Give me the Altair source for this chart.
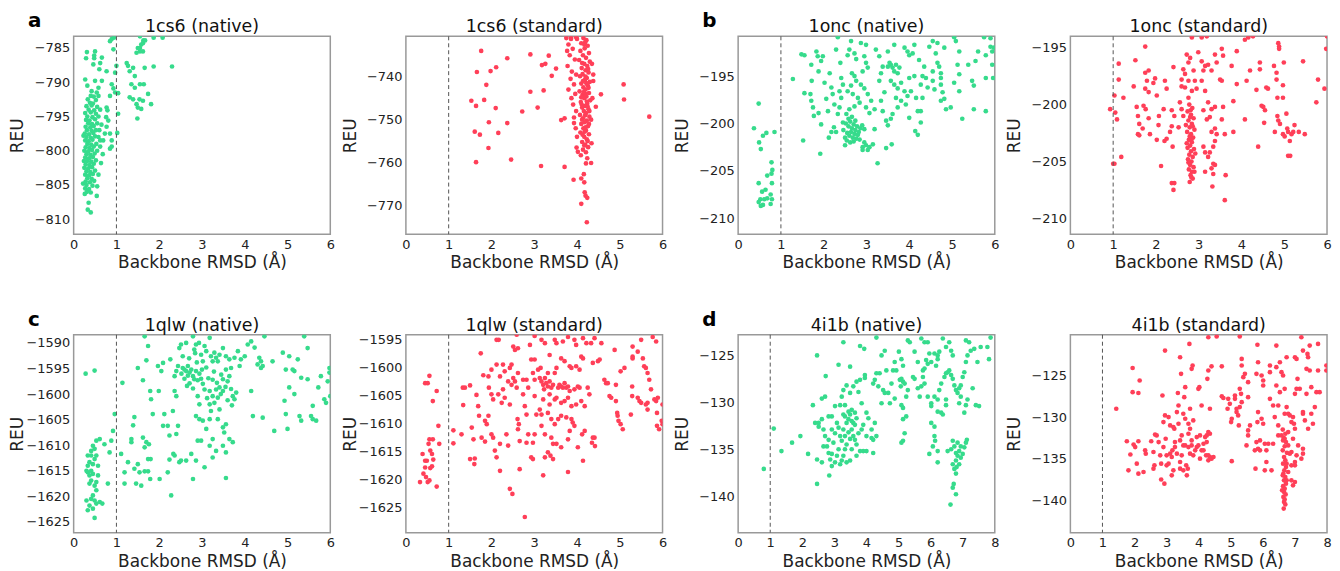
import altair as alt
import pandas as pd

GREEN = "#36db8c"
RED = "#ff3f58"
FONT = "DejaVu Sans"

# ---------------- data (RMSD in Å, energy in REU) ----------------
ref_rmsd = [1.0]
x6_ticks = [0, 1, 2, 3, 4, 5, 6]
x8_ticks = [0, 1, 2, 3, 4, 5, 6, 7, 8]

a_native_yticks = [-810, -805, -800, -795, -790, -785]
a_standard_yticks = [-770, -760, -750, -740]
b_yticks = [-210, -205, -200, -195]
c_native_yticks = [-1625, -1620, -1615, -1610, -1605, -1600, -1595, -1590]
c_standard_yticks = [-1625, -1620, -1615, -1610, -1605, -1600, -1595]
d_yticks = [-140, -135, -130, -125]

a_native = [
    (0.85, -784.0), (0.89, -783.7), (0.94, -783.5), (1.55, -783.3), (1.87, -783.5), (2.08, -783.5), (0.93, -785.2),
    (1.47, -785.7), (1.50, -785.0), (1.55, -785.0), (1.58, -784.5), (1.62, -784.3), (1.63, -783.9), (1.67, -783.9),
    (1.55, -785.5), (1.62, -785.5), (1.24, -787.2), (1.27, -787.6), (1.39, -787.9), (1.66, -787.9), (1.87, -787.7),
    (2.30, -787.7), (0.77, -788.4), (0.97, -788.6), (1.00, -787.6), (1.31, -788.4), (1.43, -789.1), (1.35, -790.3),
    (1.43, -790.8), (1.55, -790.3), (1.64, -790.3), (0.89, -790.3), (0.93, -790.9), (0.97, -791.5), (1.04, -791.6),
    (0.85, -792.0), (1.31, -792.2), (1.39, -792.5), (1.54, -792.5), (1.62, -792.7), (1.74, -791.7), (1.81, -793.2),
    (1.50, -793.7), (1.58, -793.9), (1.47, -793.2), (1.49, -795.3), (1.04, -794.6), (1.02, -797.4),
    (0.66, -786.4), (0.62, -787.2), (0.60, -788.1), (0.50, -785.5), (0.48, -786.1), (0.48, -786.5), (0.31, -785.6),
    (0.29, -786.5), (0.46, -787.4), (0.66, -789.8), (0.50, -789.8), (0.58, -790.8), (0.42, -791.3), (0.32, -790.5),
    (0.27, -789.6), (0.54, -791.5), (0.58, -792.0), (0.77, -793.7), (0.79, -794.1), (0.76, -795.1), (0.81, -795.6),
    (0.77, -796.5), (0.73, -797.5), (0.85, -797.5), (0.89, -798.5), (0.89, -799.4), (0.85, -799.7), (0.62, -798.5),
    (0.62, -799.4), (0.69, -798.5), (0.54, -806.6), (0.35, -807.6), (0.33, -808.6), (0.40, -809.0),
    (0.62, -794.0), (0.65, -796.2), (0.60, -797.0), (0.68, -800.5), (0.64, -801.8), (0.58, -803.5), (0.55, -805.2),
    (0.22, -804.8), (0.24, -801.5), (0.23, -797.8),
    (0.40, -792.0), (0.47, -792.1), (0.33, -792.5), (0.52, -792.6), (0.38, -793.0), (0.45, -793.1),
    (0.30, -793.5), (0.42, -793.4), (0.55, -793.6), (0.35, -794.0), (0.48, -794.1), (0.27, -794.5),
    (0.40, -794.4), (0.52, -794.6), (0.32, -795.0), (0.44, -795.1), (0.58, -795.0), (0.29, -795.5),
    (0.37, -795.6), (0.50, -795.4), (0.34, -796.0), (0.43, -796.1), (0.55, -796.0), (0.28, -796.5),
    (0.39, -796.6), (0.47, -796.4), (0.31, -797.0), (0.42, -797.1), (0.52, -797.0), (0.26, -797.5),
    (0.36, -797.6), (0.46, -797.4), (0.30, -798.0), (0.40, -798.1), (0.50, -797.9), (0.58, -798.0),
    (0.27, -798.5), (0.35, -798.6), (0.44, -798.4), (0.32, -799.0), (0.41, -799.1), (0.53, -799.0),
    (0.28, -799.5), (0.37, -799.6), (0.47, -799.4), (0.25, -800.0), (0.34, -800.1), (0.43, -799.9),
    (0.55, -800.0), (0.30, -800.5), (0.39, -800.6), (0.49, -800.4), (0.27, -801.0), (0.36, -801.1),
    (0.45, -800.9), (0.32, -801.5), (0.41, -801.6), (0.52, -801.4), (0.28, -802.0), (0.37, -802.1),
    (0.47, -801.9), (0.25, -802.5), (0.34, -802.6), (0.43, -802.4), (0.30, -803.0), (0.39, -803.1),
    (0.50, -802.9), (0.27, -803.5), (0.36, -803.6), (0.45, -803.4), (0.32, -804.0), (0.42, -804.1),
    (0.28, -804.5), (0.38, -804.6), (0.48, -804.4), (0.30, -805.0), (0.44, -805.1), (0.27, -805.5),
    (0.36, -805.6), (0.31, -806.0), (0.40, -806.1), (0.26, -806.3),
]

a_standard = [
    (1.76, -734.0), (2.91, -734.8), (3.34, -735.1), (2.37, -735.7), (3.18, -737.3), (3.26, -737.0), (3.51, -738.1),
    (2.11, -737.8), (1.98, -738.7), (1.66, -738.9), (3.41, -739.8), (1.88, -741.9), (5.09, -741.8), (2.91, -743.5),
    (3.22, -743.2), (1.53, -745.6), (1.83, -745.4), (5.10, -745.3), (1.64, -746.8), (2.10, -747.3), (3.08, -747.2),
    (2.72, -748.1), (5.69, -749.3), (3.71, -749.7), (3.63, -750.1), (1.94, -750.6), (2.37, -750.8), (3.93, -750.8),
    (1.61, -752.8), (1.73, -753.5), (2.16, -753.1), (1.93, -756.6), (1.64, -759.9), (2.46, -759.3), (3.16, -760.8),
    (3.71, -761.0), (3.92, -764.0), (4.16, -762.7), (4.10, -763.7), (4.17, -764.6), (4.18, -766.9), (4.20, -767.7),
    (4.24, -768.2), (4.10, -769.6), (4.23, -773.9), (4.21, -760.2), (4.33, -760.1), (4.56, -744.1), (4.44, -747.0),
    (3.75, -731.0), (3.77, -734.0), (3.86, -731.0), (3.98, -730.8), (4.17, -732.5),
    (4.15, -731.0), (4.22, -731.5), (4.10, -732.2), (4.25, -732.8), (4.18, -733.4), (4.08, -734.0), (4.28, -734.5),
    (4.14, -735.0), (4.21, -735.6), (4.05, -736.1), (4.30, -736.5), (4.17, -737.0), (4.24, -737.5), (4.11, -738.0),
    (4.20, -738.5), (4.27, -739.0), (4.13, -739.4), (4.07, -739.9), (4.23, -740.3), (4.18, -740.8), (4.30, -741.2),
    (4.10, -741.6), (4.25, -742.0), (4.15, -742.5), (4.20, -743.0), (4.06, -743.4), (4.28, -743.8), (4.13, -744.2),
    (4.22, -744.6), (4.17, -745.0), (4.31, -745.5), (4.09, -745.9), (4.24, -746.3), (4.19, -746.8), (4.12, -747.2),
    (4.27, -747.6), (4.16, -748.0), (4.21, -748.5), (4.07, -748.9), (4.29, -749.3), (4.14, -749.7), (4.23, -750.2),
    (4.18, -750.6), (4.10, -751.0), (4.26, -751.5), (4.15, -752.0), (4.21, -752.5), (4.08, -753.0), (4.28, -753.4),
    (4.17, -754.0), (4.23, -754.6), (4.12, -755.2), (4.19, -755.8), (4.26, -756.4), (4.14, -757.0), (4.21, -757.6),
    (4.09, -758.3), (4.24, -759.0),
    (4.19, -732.0), (4.12, -736.8), (4.26, -738.2), (4.20, -740.0), (4.14, -741.0), (4.27, -742.6), (4.19, -744.0),
    (4.11, -746.5), (4.25, -747.0), (4.19, -749.0), (4.12, -750.0), (4.28, -751.0), (4.20, -751.8), (4.13, -753.5),
    (4.25, -755.0), (4.17, -756.0), (4.22, -741.5), (4.16, -743.6), (4.23, -745.8), (4.18, -752.8), (4.29, -748.0),
    (4.10, -744.8),
    (3.80, -732.5), (3.90, -733.5), (3.83, -735.0), (3.95, -736.0), (3.78, -737.5), (3.88, -738.8), (3.98, -739.5),
    (3.85, -740.5), (3.93, -741.8), (3.80, -743.0), (3.96, -744.0), (3.87, -745.0), (3.91, -746.5), (3.98, -748.0),
    (3.93, -749.5), (3.97, -752.0), (4.00, -754.0), (3.99, -756.5), (4.02, -757.5), (4.35, -737.0), (4.38, -741.0),
    (4.36, -745.0), (4.33, -750.0), (4.34, -755.5), (4.38, -739.5), (4.00, -731.2), (3.86, -731.2),
]

b_native = [
    (0.48, -197.9), (0.37, -200.5), (0.85, -200.9), (0.66, -201.0), (0.58, -201.3), (0.49, -202.0), (0.53, -202.7),
    (0.78, -204.1), (0.80, -204.9), (0.78, -205.3), (0.68, -205.5), (0.79, -206.3), (0.48, -206.3), (0.56, -207.2),
    (0.64, -207.0), (0.76, -207.5), (0.68, -207.9), (0.52, -208.0), (0.61, -208.0), (0.79, -208.0), (0.76, -208.5),
    (0.53, -208.7), (0.58, -208.6), (0.48, -208.3),
    (1.28, -195.3), (1.48, -192.7), (1.55, -192.8), (1.52, -201.8), (1.55, -196.8), (1.71, -193.8), (1.72, -195.5),
    (1.69, -196.9), (1.71, -197.6), (1.75, -198.3), (1.77, -199.2), (1.83, -192.4), (1.86, -192.9), (1.88, -194.5),
    (1.94, -193.4), (1.98, -192.9), (2.02, -195.7), (2.06, -197.4), (2.10, -198.7), (1.88, -198.9), (1.94, -200.1),
    (2.12, -201.5), (1.92, -203.2), (2.14, -194.7), (2.18, -196.2), (2.21, -196.9), (2.25, -198.0), (2.24, -200.4),
    (2.18, -200.9), (2.29, -200.9), (2.29, -192.2), (2.33, -190.9), (2.39, -193.6), (2.41, -195.2), (2.45, -195.9),
    (2.37, -196.6), (2.41, -197.3), (2.37, -198.3), (2.33, -199.0), (2.45, -199.9), (2.64, -191.3), (2.60, -192.2),
    (2.56, -192.8), (2.72, -192.6), (2.76, -193.2), (2.66, -194.7), (2.72, -195.0), (2.76, -195.5), (2.64, -196.0),
    (2.56, -196.6), (2.68, -196.9), (2.80, -197.3), (2.84, -197.8), (2.72, -198.2), (2.60, -198.5), (2.53, -199.0),
    (2.87, -191.5), (2.99, -191.7), (2.95, -192.9), (2.99, -193.6), (3.03, -194.1), (2.91, -194.5), (2.87, -195.9),
    (2.95, -196.3), (3.03, -196.9), (3.11, -197.6), (2.99, -198.3), (3.07, -198.9), (3.19, -198.5), (2.95, -200.6),
    (3.19, -200.6), (3.26, -204.2), (2.95, -202.0), (2.99, -202.3), (3.07, -202.5), (2.91, -202.5), (3.03, -202.8),
    (3.15, -202.2), (2.91, -202.8), (3.34, -194.7), (3.38, -194.0), (3.30, -195.5), (3.42, -196.7), (3.34, -197.6),
    (3.38, -198.7), (3.46, -199.7), (3.50, -200.2), (3.46, -202.6), (3.59, -202.2), (3.30, -192.9), (3.22, -192.2),
    (3.50, -192.4), (3.65, -191.7), (3.50, -194.0), (3.54, -193.6), (3.57, -193.8), (3.61, -194.1), (3.65, -194.5),
    (3.73, -194.7), (3.69, -193.8), (3.77, -194.1), (3.57, -195.5), (3.65, -195.9), (3.73, -196.3), (3.81, -195.7),
    (3.89, -196.6), (3.69, -197.3), (3.81, -197.6), (3.92, -198.0), (3.73, -198.3), (3.61, -199.0), (3.57, -199.5),
    (3.96, -192.4), (4.00, -192.8), (3.89, -192.0), (4.08, -192.6), (4.12, -191.7), (4.00, -195.2), (4.12, -195.0),
    (4.04, -196.6), (4.16, -197.3), (3.96, -197.1), (4.00, -199.4), (4.20, -198.7), (4.14, -200.8), (4.20, -201.2),
    (4.23, -193.3), (4.35, -194.0), (4.31, -195.0), (4.39, -195.2), (4.27, -195.9), (4.43, -196.2), (4.31, -197.3),
    (4.27, -198.7), (4.27, -199.9), (4.47, -191.9), (4.55, -191.3), (4.66, -191.5), (4.62, -192.6), (4.82, -192.0),
    (4.55, -195.5), (4.59, -196.4), (4.66, -193.6), (4.70, -194.0), (4.55, -194.5), (4.74, -195.2), (4.74, -195.9),
    (4.78, -196.7), (4.82, -197.4), (4.74, -197.6), (4.86, -198.5), (4.97, -198.3), (4.74, -194.7), (5.05, -190.9),
    (5.09, -191.3), (5.17, -192.4), (5.13, -193.8), (5.17, -194.8), (5.05, -195.7), (5.17, -196.6), (5.24, -199.5),
    (5.38, -193.8), (5.55, -193.4), (5.47, -195.5), (5.51, -196.0), (5.51, -198.5), (5.61, -192.4), (5.79, -192.8),
    (5.75, -190.9), (5.90, -191.0), (5.90, -191.9), (5.94, -192.4), (5.98, -192.0), (5.94, -193.8), (5.96, -195.2),
    (5.79, -195.2), (5.79, -198.7),
    (2.52, -200.0), (2.58, -200.3), (2.62, -199.8), (2.66, -200.5), (2.70, -200.1), (2.74, -200.7), (2.78, -200.3),
    (2.82, -200.9), (2.86, -200.5), (2.55, -201.0), (2.60, -201.3), (2.64, -200.9), (2.68, -201.5), (2.72, -201.1),
    (2.76, -201.6), (2.80, -201.2), (2.50, -201.5), (2.54, -201.8), (2.62, -202.0), (2.70, -201.9), (2.58, -199.5),
    (2.66, -199.3), (2.74, -199.7), (2.50, -202.3), (2.84, -201.7), (2.90, -200.2), (2.46, -200.7),
]

b_standard = [
    (0.93, -200.4), (1.05, -200.7), (1.09, -201.3), (1.03, -199.2), (1.13, -197.8), (1.13, -196.4), (1.24, -199.4),
    (1.03, -205.2), (1.00, -205.2), (1.19, -204.6), (1.52, -196.1), (1.48, -198.4), (1.55, -200.2), (1.58, -201.0),
    (1.61, -201.7), (1.58, -202.6), (1.61, -202.7), (1.75, -197.2), (1.83, -197.0), (1.79, -197.9), (1.75, -198.6),
    (1.83, -198.9), (1.71, -200.1), (1.76, -200.4), (1.83, -201.2), (1.69, -202.1), (1.86, -202.6), (1.75, -194.9),
    (1.98, -197.7), (1.94, -198.1), (2.02, -199.2), (2.06, -201.8), (2.07, -201.0), (2.02, -203.1), (2.21, -197.9),
    (2.25, -198.6), (2.18, -200.4), (2.20, -203.2), (2.25, -203.0), (2.33, -202.4), (2.12, -205.4), (2.37, -206.9),
    (2.41, -207.5), (2.43, -206.9), (2.41, -196.7), (2.37, -200.5), (2.43, -201.0), (2.37, -201.9), (2.39, -203.7),
    (2.64, -196.9), (2.68, -197.3), (2.60, -197.8), (2.72, -195.6), (2.76, -196.3), (2.80, -195.9), (2.84, -194.1),
    (2.60, -198.4), (2.68, -198.5), (2.76, -197.9), (2.88, -197.0), (2.91, -197.9), (2.95, -198.6), (2.84, -198.8),
    (2.76, -199.4), (2.56, -199.8), (2.60, -200.4), (2.64, -201.0), (2.53, -202.0), (2.99, -195.4), (3.07, -196.2),
    (3.15, -196.6), (3.22, -196.5), (3.11, -197.0), (3.30, -197.0), (3.15, -198.8), (3.07, -197.9), (3.22, -199.8),
    (3.30, -200.4), (3.38, -200.2), (3.26, -201.1), (3.19, -201.3), (3.11, -200.5), (3.38, -195.6), (3.42, -196.3),
    (3.50, -197.8), (3.54, -197.9), (3.57, -195.7), (3.54, -195.1), (3.07, -194.1), (3.19, -194.0), (3.57, -200.2),
    (3.54, -201.3), (3.38, -202.1), (3.42, -202.6), (3.38, -203.2), (3.34, -203.7), (3.30, -202.4), (3.61, -202.6),
    (3.77, -196.6), (3.89, -198.2), (3.89, -195.3), (3.81, -199.7), (3.81, -202.4), (3.63, -206.2), (3.61, -208.4),
    (3.32, -207.2), (3.34, -205.2), (3.38, -205.3), (3.30, -205.6), (3.34, -206.1), (3.15, -205.9), (3.22, -204.6),
    (3.26, -204.2), (3.11, -203.7), (3.15, -204.2), (4.12, -197.9), (4.20, -197.0), (4.08, -194.3), (4.16, -194.1),
    (4.27, -194.0), (4.08, -201.3), (4.39, -203.7), (4.35, -198.7), (4.43, -196.3), (4.43, -196.9), (4.47, -200.1),
    (4.51, -200.2), (4.55, -200.5), (4.53, -201.6), (4.58, -198.5), (4.62, -198.6), (4.76, -196.6), (4.82, -197.2),
    (4.82, -197.8), (4.84, -199.4), (4.84, -201.0), (4.86, -201.4), (4.90, -201.7), (4.78, -202.4), (4.86, -194.6),
    (4.88, -194.9), (4.88, -195.1), (4.97, -198.3), (4.99, -196.3), (4.97, -199.4), (5.05, -200.8), (4.97, -202.6),
    (5.01, -202.8), (5.09, -202.4), (5.07, -202.1), (5.17, -202.6), (5.13, -203.2), (5.24, -201.8), (5.34, -202.4),
    (5.48, -202.6), (5.44, -196.2), (5.09, -204.5), (5.14, -204.5), (5.79, -197.8), (5.75, -199.8), (5.94, -198.6),
    (5.98, -195.1), (6.00, -194.0), (5.21, -202.4),
    (2.78, -200.0), (2.85, -200.3), (2.74, -200.6), (2.82, -200.9), (2.88, -201.2), (2.76, -201.4), (2.84, -201.7),
    (2.79, -202.0), (2.90, -202.2), (2.73, -202.4), (2.82, -202.6), (2.87, -202.9), (2.77, -203.1), (2.84, -203.3),
    (2.80, -203.6), (2.74, -203.8), (2.89, -203.9), (2.82, -204.1), (2.78, -204.4), (2.86, -204.6), (2.75, -204.8),
    (2.83, -205.0), (2.80, -205.3), (2.88, -205.5), (2.77, -205.7), (2.84, -205.9), (2.81, -206.2), (2.86, -206.5),
    (2.79, -206.8), (2.83, -203.0), (2.79, -202.8), (2.86, -201.9), (2.80, -201.1), (2.72, -203.4), (2.92, -204.3),
    (2.76, -205.1), (2.90, -205.9), (2.81, -200.5), (2.70, -201.8), (2.83, -206.4),
]

c_native = [
    (0.28, -1596.0), (0.49, -1595.4), (0.33, -1612.0), (0.37, -1613.3), (0.30, -1615.0), (0.33, -1615.3),
    (0.41, -1615.0), (0.45, -1615.6), (0.37, -1615.9), (0.41, -1616.9), (0.45, -1610.1), (0.49, -1610.7),
    (0.41, -1611.1), (0.53, -1612.0), (0.49, -1612.7), (0.45, -1613.7), (0.57, -1614.0), (0.53, -1609.1),
    (0.61, -1608.8), (0.57, -1615.9), (0.53, -1617.2), (0.37, -1617.5), (0.49, -1617.9), (0.53, -1618.8),
    (0.45, -1619.8), (0.41, -1620.5), (0.30, -1620.8), (0.49, -1620.8), (0.53, -1621.4), (0.37, -1621.8),
    (0.33, -1622.7), (0.45, -1622.4), (0.49, -1624.2), (0.67, -1621.4), (0.61, -1621.1), (0.41, -1612.0),
    (0.33, -1614.0), (0.72, -1609.8), (0.88, -1609.1), (0.92, -1607.2), (0.84, -1611.4), (0.96, -1603.9),
    (0.80, -1617.5), (1.11, -1611.7), (1.19, -1615.3), (1.19, -1617.5), (1.14, -1597.8), (1.27, -1613.3),
    (1.35, -1608.8), (1.35, -1609.4), (1.39, -1606.1), (1.42, -1604.5), (1.42, -1614.6), (1.46, -1617.5),
    (1.50, -1613.7), (1.58, -1617.9), (1.54, -1615.3), (1.66, -1615.1), (1.74, -1615.1), (1.62, -1608.5),
    (1.66, -1610.4), (1.70, -1609.4), (1.76, -1609.8), (1.74, -1612.7), (1.79, -1616.6), (1.80, -1612.7),
    (1.50, -1594.9), (1.62, -1597.3), (1.70, -1593.4), (1.74, -1590.6), (1.79, -1599.4), (1.81, -1601.0),
    (1.85, -1603.9), (1.66, -1588.7), (1.97, -1594.5), (1.99, -1599.4), (2.05, -1595.5), (2.09, -1593.9),
    (2.09, -1606.2), (2.12, -1603.9), (2.01, -1616.6), (2.20, -1606.2), (2.20, -1615.3), (2.24, -1608.1),
    (2.24, -1612.8), (2.28, -1619.8), (2.32, -1603.3), (2.33, -1611.7), (2.36, -1612.0), (2.40, -1607.8),
    (2.44, -1606.2), (2.47, -1613.3), (2.51, -1613.0), (2.63, -1613.0), (2.75, -1611.7), (2.79, -1616.6),
    (2.26, -1593.2), (2.36, -1596.5), (2.40, -1595.5), (2.44, -1594.5), (2.47, -1591.0), (2.51, -1590.3),
    (2.55, -1592.6), (2.36, -1599.4), (2.40, -1600.4), (2.55, -1594.9), (2.59, -1595.2), (2.63, -1595.5),
    (2.67, -1594.5), (2.71, -1595.8), (2.59, -1597.0), (2.67, -1596.4), (2.75, -1595.2), (2.79, -1596.5),
    (2.82, -1597.1), (2.86, -1595.5), (2.90, -1597.3), (2.94, -1596.0), (2.98, -1597.0), (3.02, -1598.0),
    (2.71, -1597.9), (2.79, -1598.9), (2.63, -1590.0), (2.79, -1588.7), (2.82, -1591.3), (2.86, -1590.3),
    (2.93, -1590.0), (2.98, -1592.3), (3.02, -1593.6), (3.06, -1590.6), (3.10, -1591.6), (3.18, -1589.0),
    (3.21, -1592.6), (3.25, -1593.6), (3.29, -1591.9), (3.33, -1592.9), (3.37, -1593.6), (3.41, -1592.3),
    (3.49, -1591.0), (3.56, -1592.6), (3.64, -1593.2), (3.68, -1594.9), (3.76, -1592.9), (3.56, -1595.2),
    (3.64, -1596.5), (3.49, -1597.1), (3.60, -1597.5), (3.06, -1599.1), (3.18, -1599.4), (3.25, -1600.4),
    (3.33, -1599.1), (3.41, -1598.7), (3.49, -1599.4), (3.37, -1600.7), (3.29, -1601.7), (2.94, -1602.0),
    (2.90, -1600.4), (3.18, -1602.0), (3.21, -1603.3), (3.41, -1603.0), (3.72, -1600.4), (3.76, -1601.0),
    (3.80, -1599.7), (3.18, -1604.9), (3.02, -1605.2), (2.86, -1604.3), (3.37, -1604.9), (3.49, -1606.5),
    (3.56, -1605.9), (3.52, -1607.5), (3.10, -1606.8), (3.25, -1608.8), (2.90, -1609.1), (2.98, -1609.1),
    (3.18, -1610.1), (3.33, -1611.1), (3.49, -1610.1), (3.56, -1611.4), (3.72, -1609.4), (3.64, -1608.8),
    (2.86, -1613.0), (3.06, -1614.3), (3.25, -1612.4), (3.56, -1616.4), (2.94, -1604.9), (3.88, -1594.5),
    (3.91, -1593.2), (3.84, -1591.6), (4.00, -1592.6), (4.07, -1590.3), (4.15, -1589.7), (4.23, -1590.9),
    (4.34, -1592.9), (4.38, -1593.6), (4.42, -1594.5), (4.30, -1594.2), (4.38, -1594.9), (4.15, -1599.4),
    (4.19, -1604.3), (4.42, -1604.6), (4.46, -1588.7), (4.65, -1593.6), (4.69, -1607.2), (4.89, -1591.9),
    (4.93, -1601.3), (4.96, -1603.9), (5.00, -1606.8), (5.04, -1592.6), (5.04, -1598.7), (4.96, -1595.2),
    (5.12, -1595.2), (5.16, -1600.0), (5.16, -1595.5), (5.24, -1593.2), (5.28, -1604.3), (5.32, -1605.2),
    (5.32, -1596.8), (5.39, -1588.7), (5.47, -1597.1), (5.55, -1604.3), (5.59, -1604.9), (5.59, -1602.3),
    (5.67, -1605.2), (5.72, -1598.7), (5.78, -1596.5), (5.86, -1601.0), (5.90, -1601.7), (5.94, -1597.5),
    (5.98, -1594.9), (5.98, -1595.8), (6.00, -1600.4), (5.47, -1591.0),
    (2.70, -1593.0), (2.88, -1593.8), (3.10, -1594.8), (3.28, -1595.6), (3.45, -1596.2), (3.15, -1596.9),
    (3.35, -1597.8), (3.55, -1598.6), (3.68, -1599.0), (3.44, -1600.0), (3.60, -1601.2), (3.25, -1597.2),
    (2.84, -1592.0), (3.00, -1595.2), (2.52, -1596.0), (2.65, -1598.4), (3.12, -1600.8), (3.70, -1602.2),
]

c_standard = [
    (0.33, -1620.4), (0.39, -1615.4), (0.41, -1618.9), (0.45, -1617.8), (0.49, -1616.6), (0.47, -1619.5),
    (0.51, -1620.4), (0.53, -1613.6), (0.55, -1612.8), (0.57, -1614.8), (0.57, -1617.9), (0.61, -1615.4),
    (0.63, -1612.8), (0.61, -1617.6), (0.64, -1616.4), (0.72, -1621.2), (0.78, -1613.6), (0.76, -1610.4),
    (0.72, -1604.2), (0.63, -1606.0), (0.55, -1601.5), (0.45, -1602.8), (0.51, -1602.8), (0.45, -1616.6),
    (0.55, -1620.1), (1.11, -1611.2), (1.11, -1613.5), (1.30, -1611.9), (1.33, -1603.6), (1.38, -1603.6),
    (1.34, -1606.7), (1.50, -1603.2), (1.54, -1610.7), (1.50, -1616.3), (1.60, -1617.2), (1.61, -1616.2),
    (1.58, -1612.8), (1.65, -1604.9), (1.69, -1606.9), (1.71, -1608.6), (1.75, -1597.5), (1.77, -1612.5),
    (1.81, -1601.4), (1.85, -1613.2), (1.85, -1609.5), (1.89, -1610.1), (1.93, -1601.6), (1.94, -1603.6),
    (1.93, -1608.6), (2.00, -1600.4), (2.00, -1604.8), (2.04, -1605.7), (2.00, -1611.9), (2.04, -1612.5),
    (2.08, -1614.8), (2.12, -1616.0), (2.12, -1595.1), (2.17, -1595.1), (2.12, -1599.5), (2.20, -1601.6),
    (2.16, -1604.8), (2.24, -1606.3), (2.20, -1613.6), (2.20, -1618.4), (2.27, -1599.5), (2.31, -1600.7),
    (2.27, -1603.9), (2.31, -1605.4), (2.35, -1611.9), (2.39, -1613.9), (2.43, -1621.6), (2.49, -1622.5),
    (2.51, -1596.3), (2.55, -1596.9), (2.59, -1594.2), (2.62, -1596.6), (2.51, -1601.9), (2.55, -1602.5),
    (2.59, -1603.6), (2.62, -1601.0), (2.61, -1609.2), (2.64, -1610.1), (2.62, -1611.0), (2.66, -1613.1),
    (2.66, -1618.1), (2.47, -1599.5), (2.43, -1600.1), (2.47, -1603.1), (2.43, -1606.6), (2.39, -1602.5),
    (2.74, -1602.2), (2.82, -1602.2), (2.86, -1603.6), (2.74, -1604.8), (2.78, -1606.9), (2.82, -1608.4),
    (2.86, -1611.9), (2.82, -1613.4), (2.78, -1626.6), (2.90, -1596.0), (2.93, -1598.6), (3.01, -1598.6),
    (3.01, -1594.4), (2.97, -1601.0), (3.01, -1602.2), (3.01, -1605.1), (3.05, -1608.4), (3.01, -1611.9),
    (2.93, -1616.0), (2.97, -1616.3), (2.97, -1613.4), (3.13, -1601.9), (3.17, -1602.5), (3.21, -1603.1),
    (3.25, -1601.9), (3.28, -1602.8), (3.32, -1603.4), (3.36, -1602.5), (3.40, -1603.6), (3.44, -1603.1),
    (3.23, -1603.9), (3.32, -1601.0), (3.15, -1600.1), (3.48, -1601.0), (3.52, -1600.1), (3.09, -1600.4),
    (3.36, -1604.8), (3.48, -1605.7), (3.56, -1603.6), (3.59, -1603.1), (3.63, -1603.4), (3.67, -1603.6),
    (3.71, -1602.8), (3.75, -1603.6), (3.79, -1603.4), (3.17, -1595.1), (3.25, -1595.7), (3.36, -1597.8),
    (3.48, -1595.1), (3.52, -1595.7), (3.63, -1598.4), (3.71, -1598.9), (3.67, -1595.4), (3.79, -1594.6),
    (3.94, -1595.1), (3.98, -1596.0), (4.10, -1598.1), (4.14, -1598.4), (4.14, -1594.8), (4.22, -1595.7),
    (4.33, -1595.7), (4.41, -1594.8), (4.57, -1595.7), (4.37, -1599.2), (4.49, -1598.9), (4.53, -1598.6),
    (3.83, -1599.8), (3.87, -1600.1), (3.98, -1599.8), (4.06, -1600.4), (4.02, -1603.4), (4.06, -1603.6),
    (3.94, -1603.9), (3.83, -1604.2), (3.79, -1605.4), (3.71, -1606.0), (3.63, -1606.3), (3.52, -1605.4),
    (3.36, -1606.6), (3.21, -1605.7), (3.13, -1607.5), (3.17, -1608.4), (3.32, -1608.1), (3.40, -1609.2),
    (3.48, -1610.1), (3.56, -1609.2), (3.63, -1608.6), (3.75, -1608.9), (3.87, -1606.9), (3.98, -1606.6),
    (4.10, -1606.0), (4.18, -1606.9), (4.25, -1603.6), (4.29, -1604.8), (3.17, -1610.4), (3.25, -1611.9),
    (3.40, -1612.5), (3.52, -1613.6), (3.32, -1615.1), (3.38, -1615.7), (3.44, -1616.3), (3.25, -1616.0),
    (3.21, -1619.2), (3.63, -1614.2), (3.79, -1612.8), (3.83, -1611.3), (3.87, -1609.2), (3.90, -1609.8),
    (3.94, -1610.4), (3.79, -1618.6), (4.02, -1614.2), (4.12, -1611.9), (4.18, -1611.3), (4.14, -1616.6),
    (4.35, -1613.4), (4.41, -1612.5), (4.42, -1614.0), (4.37, -1612.5), (3.44, -1613.6), (4.64, -1602.2),
    (4.68, -1602.8), (4.72, -1602.8), (4.76, -1605.1), (4.80, -1605.4), (4.91, -1606.0), (4.94, -1608.1),
    (4.95, -1608.6), (4.97, -1609.5), (5.02, -1610.1), (5.07, -1611.0), (4.91, -1603.1), (5.02, -1600.7),
    (5.11, -1600.1), (4.88, -1596.9), (5.26, -1608.4), (5.29, -1605.1), (5.29, -1603.4), (5.30, -1598.1),
    (5.30, -1598.4), (5.30, -1596.3), (5.42, -1597.2), (5.50, -1595.1), (5.42, -1605.4), (5.46, -1606.0),
    (5.50, -1606.3), (5.54, -1598.4), (5.57, -1599.8), (5.61, -1600.1), (5.65, -1601.0), (5.69, -1602.2),
    (5.65, -1606.3), (5.61, -1606.6), (5.65, -1607.5), (5.73, -1603.9), (5.77, -1594.6), (5.85, -1595.4),
    (5.81, -1605.7), (5.85, -1606.0), (5.89, -1605.4), (5.87, -1608.1), (5.87, -1610.4), (5.92, -1611.0),
    (5.98, -1609.5), (6.00, -1610.1), (6.00, -1606.6),
]

d_native = [
    (0.80, -137.1), (1.11, -132.8), (1.35, -135.2), (1.68, -134.3), (1.94, -133.6), (2.18, -135.5), (2.33, -130.3),
    (2.46, -125.0), (2.46, -138.7), (2.46, -136.1), (2.51, -132.2), (2.61, -129.6), (2.71, -129.4), (2.73, -127.2),
    (2.84, -137.8), (2.40, -132.2), (2.51, -132.6), (2.61, -131.8), (2.66, -132.9), (2.71, -133.6), (2.77, -134.7),
    (2.82, -135.4), (2.87, -136.1), (2.92, -135.5), (2.97, -134.3), (3.02, -133.3), (2.92, -131.5), (3.02, -130.4),
    (3.08, -132.2), (3.13, -132.7), (3.18, -133.6), (3.23, -134.1), (3.23, -136.2), (3.28, -135.7), (3.33, -135.0),
    (3.38, -134.5), (3.28, -132.9), (3.33, -133.6), (3.38, -132.2), (3.44, -133.2), (3.49, -133.9), (3.54, -132.9),
    (3.59, -133.6), (3.59, -132.2), (3.64, -131.1), (3.69, -131.7), (3.54, -130.8), (3.44, -131.0), (3.33, -130.3),
    (3.23, -129.4), (3.18, -130.3), (3.28, -128.7), (3.38, -128.2), (3.49, -129.0), (3.59, -128.3), (3.69, -127.8),
    (3.75, -128.9), (3.80, -127.6), (3.85, -130.1), (4.00, -131.1), (4.06, -131.7), (4.00, -133.6), (4.16, -132.9),
    (4.16, -133.8), (4.21, -134.0), (4.26, -132.2), (4.31, -133.6), (3.69, -134.5), (3.80, -135.2), (3.90, -135.2),
    (4.00, -135.2), (3.69, -135.7), (3.49, -136.2), (3.38, -136.4), (3.18, -136.6), (3.02, -136.4), (2.92, -136.8),
    (3.08, -135.7), (3.13, -135.0), (3.54, -135.0), (3.64, -134.0), (3.75, -133.3), (3.85, -132.9), (3.90, -132.4),
    (3.33, -131.5), (3.44, -131.8), (3.54, -132.0), (3.64, -132.4), (2.82, -131.5), (2.92, -132.9), (2.82, -134.0),
    (2.66, -134.7), (2.61, -136.4), (3.28, -131.3), (3.49, -131.3), (4.21, -135.4), (3.28, -123.6), (3.13, -126.0),
    (3.49, -126.2), (3.80, -124.0), (3.93, -124.3), (3.95, -127.1), (3.95, -127.4), (4.26, -127.6), (4.31, -126.9),
    (4.31, -123.1), (4.41, -126.9), (4.47, -125.0), (4.57, -124.5), (4.62, -126.6), (4.21, -128.0), (4.37, -128.3),
    (4.52, -128.7), (4.68, -129.0), (4.78, -128.0), (4.83, -126.6), (4.88, -125.7), (4.93, -126.6), (5.01, -124.6),
    (5.09, -125.4), (5.14, -126.1), (5.09, -127.5), (5.04, -127.6), (5.14, -127.8), (5.19, -128.0), (5.07, -128.3),
    (5.29, -128.7), (5.24, -129.4), (4.88, -129.6), (4.73, -130.1), (4.47, -130.1), (4.57, -129.0), (5.09, -130.3),
    (5.14, -130.6), (5.24, -131.5), (5.14, -131.8), (5.19, -133.3), (5.09, -134.3), (5.14, -134.1), (5.29, -123.4),
    (5.35, -123.6), (5.45, -127.3), (5.50, -127.5), (5.60, -128.5), (5.71, -128.3), (5.81, -128.0), (5.76, -127.3),
    (5.66, -129.4), (5.76, -126.6), (5.60, -125.7), (5.50, -124.6), (5.71, -123.2), (5.81, -123.6), (5.91, -123.6),
    (5.86, -125.5), (5.91, -125.9), (5.81, -126.4), (5.96, -124.8), (6.02, -125.7), (6.12, -124.8), (6.22, -125.0),
    (6.27, -124.6), (6.22, -125.4), (6.17, -126.1), (6.38, -123.2), (6.48, -124.1), (6.58, -123.6), (6.64, -124.5),
    (6.69, -125.0), (5.91, -129.4), (6.02, -130.1), (6.12, -129.4), (6.22, -129.7), (6.27, -128.7), (6.33, -128.0),
    (6.43, -127.3), (6.48, -126.9), (6.53, -126.8), (6.58, -126.6), (6.64, -127.1), (6.69, -127.5), (6.74, -128.2),
    (6.79, -128.7), (6.84, -129.0), (6.89, -128.5), (6.94, -128.2), (6.94, -129.4), (7.05, -126.8), (7.00, -127.3),
    (7.10, -125.7), (7.15, -125.0), (7.25, -124.5), (7.20, -123.6), (7.10, -123.4), (7.36, -124.3), (7.56, -124.1),
    (7.77, -124.1), (7.82, -125.4), (7.87, -123.1), (7.46, -125.7), (7.31, -128.5), (7.15, -129.7), (7.10, -130.3),
    (7.41, -130.3), (7.51, -130.4), (7.05, -131.1), (6.89, -130.1), (6.48, -129.7), (6.48, -130.3), (6.33, -131.1),
    (6.38, -131.3), (6.22, -131.0), (6.02, -132.2), (6.12, -132.6), (6.02, -130.4), (6.12, -133.6), (6.14, -134.1),
    (6.07, -134.7), (5.96, -135.5), (6.22, -135.2), (6.22, -136.4), (6.53, -135.2), (6.64, -135.0), (6.69, -134.1),
    (6.74, -134.7), (6.79, -135.4), (6.84, -135.7), (6.89, -135.2), (6.94, -134.7), (7.00, -135.5), (6.94, -135.9),
    (6.79, -136.2), (6.69, -136.6), (6.74, -137.1), (6.81, -136.9), (6.79, -137.6), (6.72, -138.7), (6.69, -139.1),
    (6.79, -139.8), (6.62, -140.9), (6.84, -134.3), (7.10, -134.3), (7.13, -134.0), (7.05, -134.8), (6.89, -136.6),
]

d_standard = [
    (1.43, -129.0), (1.76, -132.9), (1.81, -136.4), (1.87, -134.5), (1.94, -124.1), (1.94, -127.0), (1.97, -133.3),
    (2.02, -133.6), (2.07, -135.6), (2.12, -136.8), (2.12, -132.9), (2.12, -127.1), (2.16, -125.6), (2.28, -136.6),
    (2.33, -134.0), (2.35, -134.4), (2.52, -132.9), (2.59, -134.2), (2.59, -136.2), (2.62, -135.8), (2.64, -132.1),
    (2.69, -132.2), (2.75, -133.0), (2.80, -134.6), (2.83, -135.6), (2.83, -137.5), (2.87, -127.4), (2.90, -130.6),
    (2.90, -133.6), (2.93, -138.0), (2.95, -122.0), (2.95, -129.8), (2.97, -132.6), (3.00, -134.6), (3.00, -135.8),
    (3.06, -130.0), (3.06, -135.6), (3.11, -131.0), (3.11, -134.4), (3.16, -134.8), (3.16, -137.0), (3.18, -134.0),
    (3.21, -131.2), (3.21, -136.4), (3.24, -131.4), (3.26, -133.0), (3.26, -133.6), (3.32, -134.4), (3.32, -129.4),
    (3.35, -127.1), (3.37, -128.6), (3.37, -130.8), (3.42, -132.8), (3.42, -135.4), (3.42, -136.2), (3.47, -134.6),
    (3.45, -124.8), (3.42, -122.8), (3.47, -132.2), (3.52, -129.6), (3.52, -133.4), (3.52, -136.4), (3.55, -127.6),
    (3.58, -126.4), (3.58, -130.2), (3.58, -133.4), (3.61, -135.8), (3.63, -137.0), (3.66, -136.2), (3.68, -130.8),
    (3.68, -132.0), (3.68, -133.6), (3.71, -121.2), (3.73, -131.4), (3.73, -129.0), (3.73, -134.4), (3.78, -124.2),
    (3.78, -132.8), (3.78, -133.4), (3.81, -123.8), (3.83, -130.4), (3.83, -134.6), (3.89, -134.0), (3.94, -132.4),
    (3.94, -133.6), (3.99, -126.6), (3.99, -133.4), (4.02, -126.4), (4.04, -132.2), (4.04, -135.0), (4.09, -134.0),
    (4.09, -128.6), (4.15, -133.2), (4.15, -134.0), (4.20, -132.4), (4.23, -134.6), (4.25, -132.2), (4.25, -133.0),
    (4.27, -125.4), (4.30, -124.4), (4.30, -131.8), (4.30, -134.6), (4.30, -135.2), (4.35, -129.0), (4.35, -134.8),
    (4.35, -132.0), (4.40, -135.0), (4.46, -134.8), (4.40, -123.9), (4.30, -120.4), (4.56, -120.3), (4.72, -123.9),
    (4.72, -127.5), (4.77, -127.7), (4.90, -129.0), (4.92, -127.8), (4.97, -128.4), (5.03, -130.2), (5.01, -130.6),
    (5.03, -135.3), (5.13, -127.4), (5.13, -127.8), (5.18, -129.0), (5.18, -129.4), (5.23, -129.8), (5.28, -128.8),
    (5.25, -131.0), (5.28, -126.6), (5.32, -127.2), (5.34, -123.8), (5.34, -123.0), (5.34, -128.2), (5.28, -120.3),
    (5.39, -125.2), (5.44, -124.8), (5.49, -133.4), (5.54, -127.6), (5.54, -131.6), (5.54, -132.2), (5.60, -131.0),
    (5.54, -125.8), (5.75, -134.0), (5.77, -136.2), (5.80, -133.0), (5.80, -124.8), (5.83, -121.3), (5.85, -123.4),
    (5.85, -129.4), (5.83, -130.6), (5.85, -133.8), (5.91, -134.0), (5.91, -132.8), (5.96, -130.2), (5.96, -125.0),
    (6.01, -125.6), (6.01, -126.2), (6.01, -130.8), (6.06, -133.2), (6.06, -136.4), (6.11, -134.0), (6.11, -135.4),
    (6.17, -133.2), (6.22, -127.8), (6.22, -124.6), (6.22, -123.8), (6.27, -136.4), (6.32, -133.2), (6.32, -128.6),
    (6.37, -130.0), (6.42, -126.2), (6.42, -124.0), (6.42, -121.4), (6.48, -128.6), (6.48, -131.0), (6.48, -132.2),
    (6.53, -127.0), (6.53, -123.4), (6.58, -124.6), (6.63, -125.0), (6.68, -126.6), (6.68, -129.6), (6.74, -122.8),
    (6.74, -128.8), (6.79, -129.6), (6.84, -129.8), (6.89, -130.6), (6.94, -130.0), (6.97, -130.8), (7.00, -131.4),
    (6.94, -132.6), (7.00, -122.8), (7.05, -123.0), (7.08, -125.4), (7.05, -126.6), (7.00, -127.2), (7.15, -126.6),
    (7.20, -120.4), (7.25, -122.0), (7.25, -129.6), (7.31, -130.4), (7.25, -129.4), (7.36, -127.2), (7.36, -124.2),
    (7.39, -122.4), (7.41, -122.8), (7.46, -121.4), (7.46, -124.4), (7.51, -126.4), (7.56, -130.8), (7.62, -128.8),
    (7.67, -127.0), (7.72, -121.2), (7.72, -124.4), (7.77, -127.0), (7.98, -124.4), (7.98, -123.8), (7.51, -129.6),
    (7.41, -131.4), (7.25, -133.8), (7.25, -134.4), (7.20, -135.0), (7.10, -133.4), (7.05, -134.6), (7.00, -135.4),
    (7.00, -135.8), (6.89, -135.8), (6.89, -134.2), (6.84, -134.4), (6.79, -133.4), (6.79, -136.6), (6.74, -137.6),
    (6.89, -137.6), (7.00, -137.8), (6.94, -138.2), (6.79, -131.8), (6.68, -132.6), (6.63, -132.8), (6.58, -132.2),
    (6.62, -131.5), (6.70, -132.0), (6.65, -132.5), (6.72, -133.0), (6.68, -133.5), (6.62, -134.0), (6.75, -134.3),
    (6.66, -134.8), (6.70, -135.2), (6.63, -135.6), (6.72, -136.0), (6.67, -136.4), (6.64, -136.8), (6.70, -137.2),
    (6.66, -137.6), (6.72, -138.0), (6.63, -138.3), (6.68, -138.6), (6.66, -139.0), (6.71, -139.3), (6.64, -139.6),
    (6.68, -139.9), (6.66, -140.2), (6.70, -140.5), (6.65, -141.0), (6.62, -137.0), (6.74, -135.6), (6.60, -138.8),
]

# (title, points, y-domain, x-domain, y ticks, x ticks, colour, panel letter, letter x offset)
panel_specs = [
    ("1cs6 (native)", a_native, [-812.2, -783.3], [0, 6], a_native_yticks, x6_ticks, GREEN, "a", -46),
    ("1cs6 (standard)", a_standard, [-776.7, -730.6], [0, 6], a_standard_yticks, x6_ticks, RED, "", 0),
    ("1onc (native)", b_native, [-211.7, -190.8], [0, 6], b_yticks, x6_ticks, GREEN, "b", -36),
    ("1onc (standard)", b_standard, [-211.4, -194.0], [0, 6], b_yticks, x6_ticks, RED, "", 0),
    ("1qlw (native)", c_native, [-1627.1, -1588.4], [0, 6], c_native_yticks, x6_ticks, GREEN, "c", -46),
    ("1qlw (standard)", c_standard, [-1629.4, -1594.2], [0, 6], c_standard_yticks, x6_ticks, RED, "", 0),
    ("4i1b (native)", d_native, [-143.9, -122.8], [0, 8], d_yticks, x8_ticks, GREEN, "d", -36),
    ("4i1b (standard)", d_standard, [-143.9, -120.1], [0, 8], d_yticks, x8_ticks, RED, "", 0),
]

W, H = 258, 199


def make_panel(title, pts, ydom, xdom, yticks, xticks, color, letter, letter_x):
    df = pd.DataFrame(pts, columns=["rmsd", "reu"])
    x = alt.X(
        "rmsd:Q",
        scale=alt.Scale(domain=xdom, nice=False, zero=False),
        axis=alt.Axis(values=xticks, title="Backbone RMSD (Å)", titleY=33.5,
                      titleBaseline="alphabetic", format="d", labelOverlap=False,
                      labelBound=False, labelFlush=False),
    )
    y = alt.Y(
        "reu:Q",
        scale=alt.Scale(domain=ydom, nice=False, zero=False),
        axis=alt.Axis(values=yticks, title="REU", titleX=-47, titleY=H / 2,
                      titleAngle=270, titleBaseline="bottom", format="d", labelOverlap=False),
    )
    points = alt.Chart(df).mark_circle(size=22, opacity=1, color=color, clip=True).encode(x=x, y=y)
    rule = alt.Chart(pd.DataFrame({"rmsd": ref_rmsd})).mark_rule(
        color="#555555", strokeDash=[4, 3], strokeWidth=1
    ).encode(x=x)
    head = alt.Chart(pd.DataFrame({"t": [title]})).mark_text(
        align="center", baseline="alphabetic", font=FONT, fontSize=17.5,
        fontWeight="normal", color="#111111"
    ).encode(x=alt.value(W / 2), y=alt.value(-4), text="t:N")
    layers = [points, rule, head]
    if letter:
        lab = alt.Chart(pd.DataFrame({"t": [letter]})).mark_text(
            align="left", baseline="alphabetic", font=FONT, fontSize=20,
            fontWeight="bold", color="#000000"
        ).encode(x=alt.value(letter_x), y=alt.value(-9), text="t:N")
        layers.append(lab)
    return alt.layer(*layers).properties(width=W, height=H)


panels = [make_panel(*spec) for spec in panel_specs]

chart = alt.ConcatChart(
    concat=panels, columns=4,
    spacing={"row": 101, "column": 76},
    bounds="flush",
    padding={"left": 0, "top": 1, "right": 0, "bottom": 0},
).configure_view(
    stroke="#999999", strokeWidth=1.5
).configure_axis(
    labelFont=FONT, labelFontSize=13, labelColor="#222222",
    titleFont=FONT, titleFontSize=17, titleFontWeight="normal", titleColor="#222222",
    ticks=False, tickSize=0, domain=False, grid=False, labelPadding=4,
    labelOverlap=False,
)

chart.save("out.html", embed_options={"renderer": "svg", "actions": False})
